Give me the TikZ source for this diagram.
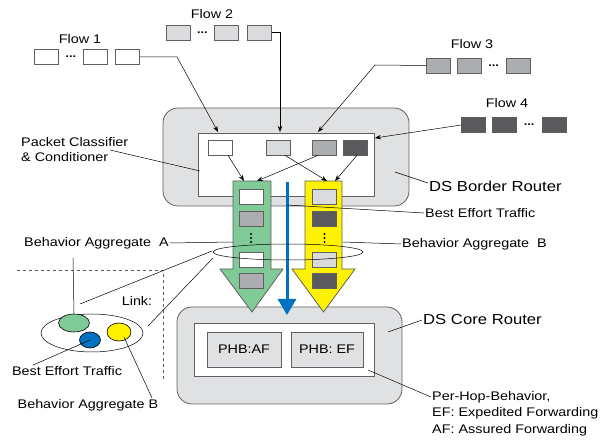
\documentclass[tikz,border=0pt]{standalone}
\usepackage{fontspec}
\setmainfont{Liberation Sans}[FakeStretch=1.15]
\usetikzlibrary{arrows.meta,positioning,shapes.geometric,calc}

\definecolor{routergray}{RGB}{224,225,227}
\definecolor{edgegray}{RGB}{95,95,97}
\definecolor{pktlight}{RGB}{218,219,221}
\definecolor{pktmid}{RGB}{172,173,176}
\definecolor{pktdark}{RGB}{90,90,92}
\definecolor{bagreen}{RGB}{128,202,152}
\definecolor{bayellow}{RGB}{255,242,0}
\definecolor{beblue}{RGB}{0,112,192}

\tikzset{
  pkt/.style={draw=edgegray, line width=0.7pt, minimum width=24pt, minimum height=15pt, inner sep=0pt},
  pktdots/.style={inner sep=0pt, font=\fontsize{11}{11}\selectfont\bfseries},
  router/.style={draw=edgegray, line width=0.8pt, fill=routergray, rounded corners=15pt},
  lbl/.style={inner sep=1pt, font=\fontsize{12.5}{16.5}\selectfont},
  biglbl/.style={inner sep=1pt, font=\fontsize{14.5}{16}\selectfont},
  lead/.style={line width=0.5pt},
}

\begin{document}
\begin{tikzpicture}[x=1pt, y=-1pt, >={Stealth[length=6pt,width=4.5pt]}]
  \useasboundingbox (0,0) rectangle (603,446);

  % flows
  \node (f1a) [pkt, fill=white] at (46,57) {};
  \node (f1b) [pkt, fill=white, right=25pt of f1a] {};
  \node (f1c) [pkt, fill=white, right=7pt of f1b] {};
  \node (f1d) [pktdots] at ($(f1a)!0.5!(f1b)$) {...};
  \node (f1) [lbl] at (80,39) {Flow 1};

  \node (f2a) [pkt, fill=pktlight] at (178,32.5) {};
  \node (f2b) [pkt, fill=pktlight, right=24pt of f2a] {};
  \node (f2c) [pkt, fill=pktlight, right=8pt of f2b] {};
  \node (f2d) [pktdots] at ($(f2a)!0.5!(f2b)$) {...};
  \node (f2) [lbl] at (212,14) {Flow 2};

  \node (f3a) [pkt, fill=pktmid] at (438.5,65.5) {};
  \node (f3b) [pkt, fill=pktmid, right=6pt of f3a] {};
  \node (f3c) [pkt, fill=pktmid, right=24pt of f3b] {};
  \node (f3d) [pktdots] at ($(f3b)!0.5!(f3c)$) {...};
  \node (f3) [lbl] at (472,44) {Flow 3};

  \node (f4a) [pkt, fill=pktdark] at (473.5,125) {};
  \node (f4b) [pkt, fill=pktdark, right=6pt of f4a] {};
  \node (f4c) [pkt, fill=pktdark, right=25pt of f4b] {};
  \node (f4d) [pktdots] at ($(f4b)!0.5!(f4c)$) {...};
  \node (f4) [lbl] at (507,103) {Flow 4};

  % border router
  \node (border) [router, minimum width=246pt, minimum height=98pt] at (286,157) {};
  \node (cls) [draw=edgegray, line width=0.8pt, fill=white, minimum width=176pt, minimum height=63pt] at (286,164.5) {};
  \node (c1) [pkt, fill=white] at (220,147.5) {};
  \node (c2) [pkt, fill=pktlight] at (278.5,147.5) {};
  \node (c3) [pkt, fill=pktmid] at (324,147.5) {};
  \node (c4) [pkt, fill=pktdark] at (355.5,147.5) {};

  \coordinate (k1) at (177,57);
  \coordinate (in1) at (218,132);
  \coordinate (in2) at (280,132);
  \coordinate (k3) at (375,65);
  \coordinate (in3) at (318,132);
  \coordinate (in4) at (375,138);
  \draw[->, lead] (f1c.east) -- (k1) -- (in1);
  \draw[->, lead] (f2c.east) -| (in2);
  \draw[->, lead] (f3a.west) -- (k3) -- (in3);
  \draw[->, lead] (f4a.west) -- (in4);

  % core router
  \node (core) [router, minimum width=225pt, minimum height=97pt] at (289.5,355.5) {};
  \node (phb) [draw=edgegray, line width=0.8pt, fill=white, minimum width=180pt, minimum height=53pt] at (284,349.5) {};
  \node (af) [pkt, fill=routergray, minimum width=74pt, minimum height=35pt, font=\fontsize{12.5}{14}\selectfont] at (244,349.5) {PHB:AF};
  \node (ef) [pkt, fill=routergray, minimum width=72pt, minimum height=35pt, font=\fontsize{12.5}{14}\selectfont] at (327,349.5) {PHB: EF};

  % behavior aggregates
  \draw[draw=edgegray, line width=0.8pt, fill=bagreen] (233,181) -- (271,181) -- (271,269) -- (283,269)
    -- (252,312) -- (220,269) -- (233,269) -- cycle;
  \draw[draw=edgegray, line width=0.8pt, fill=bayellow] (305,181) -- (342,181) -- (342,269) -- (355,269)
    -- (323.5,312) -- (292,269) -- (305,269) -- cycle;
  \coordinate (ga1) at (244,181);
  \coordinate (ga2) at (257,181);
  \coordinate (ya1) at (327,181);
  \coordinate (ya2) at (335,181);
  \draw[->, lead] ($(c1.south)+(8,0)$) -- (ga1);
  \draw[->, lead] ($(c3.south)+(-6,0)$) -- (ga2);
  \draw[->, lead] ($(c2.south)+(6.5,0)$) -- (ya1);
  \draw[->, lead] ($(c4.south)+(1.5,0)$) -- (ya2);

  \node (g1) [pkt, fill=white] at (251,197) {};
  \node (g2) [pkt, fill=pktmid] at (251,219) {};
  \node (g4) [pkt, fill=white] at (251,259.5) {};
  \node (g5) [pkt, fill=pktmid] at (251,281) {};
  \node (y1) [pkt, fill=pktlight] at (324.5,197) {};
  \node (y2) [pkt, fill=pktdark] at (324.5,219) {};
  \node (y4) [pkt, fill=pktlight] at (324.5,259.5) {};
  \node (y5) [pkt, fill=pktdark] at (324.5,281) {};
  \foreach \dy in {-4,0,4} {
    \fill (251,238+\dy) circle (1.1pt);
    \fill (324.5,238+\dy) circle (1.1pt);
  }

  % best effort
  \coordinate (be1) at (287,182);
  \coordinate (be2) at (287,315);
  \draw[beblue, line width=3pt, -{Triangle[width=18pt,length=16pt]}] (be1) -- (be2);

  % link
  \node (bag) [draw, ellipse, line width=0.5pt, minimum width=150pt, minimum height=16pt] at (288,252) {};

  % labels
  \node (pcc) [lbl, anchor=west, align=left, font=\fontsize{12.5}{15}\selectfont] at (20,149.5) {Packet Classifier\\\& Conditioner};
  \coordinate (pcc1) at (200,171);
  \draw[lead] (110,150) -- (pcc1);

  \node (dsb) [biglbl, anchor=west] at (428,186) {DS Border Router};
  \coordinate (dsb1) at (395,172);
  \draw[lead] ($(dsb.west)+(0,-3)$) -- (dsb1);

  \node (ber) [lbl, anchor=west] at (424,213) {Best Effort Traffic};
  \coordinate (ber1) at (287,205);
  \draw[lead] (ber.west) -- (ber1);

  \node (bab) [lbl, anchor=west] at (401,244) {Behavior Aggregate\ \ B};
  \coordinate (bab1) at (343,242);
  \draw[lead] (bab.west) -- (bab1);

  \node (baa) [lbl, anchor=west] at (23,243) {Behavior Aggregate\ \ A};
  \coordinate (baa1) at (233,242);
  \draw[lead] (baa.east) -- (baa1);

  \node (dsc) [biglbl, anchor=west] at (422,320) {DS Core Router};
  \coordinate (dsc1) at (388,332);
  \draw[lead] (dsc.west) -- (dsc1);

  \node (phbl) [lbl, anchor=north west, align=left] at (431,390) {Per-Hop-Behavior,\\EF: Expedited Forwarding\\AF: Assured Forwarding};
  \coordinate (phb1) at (368,370);
  \draw[lead] ($(phbl.north west)+(0,7)$) -- (phb1);

  % link detail
  \draw[dashed, lead, edgegray] (17,270) -- (163,270) -- (163,382);
  \node (lnkl) [lbl] at (137,301) {Link:};
  \node (lnk) [draw, ellipse, line width=0.5pt, minimum width=102pt, minimum height=38pt] at (92,333) {};
  \node (gsm) [draw, ellipse, fill=bagreen, line width=0.6pt, minimum width=31pt, minimum height=18pt, inner sep=0pt] at (74,323) {};
  \node (bsm) [draw, ellipse, fill=beblue, line width=0.6pt, minimum width=21pt, minimum height=16pt, inner sep=0pt] at (90,340) {};
  \node (ysm) [draw, ellipse, fill=bayellow, line width=0.6pt, minimum width=24pt, minimum height=18pt, inner sep=0pt] at (119,332) {};
  \coordinate (lz1) at (80,304);
  \coordinate (lz2) at (212,251);
  \coordinate (lz3) at (148,326);
  \coordinate (lz4) at (213,258);
  \draw[lead] (lz1) -- (lz2);
  \draw[lead] (lz3) -- (lz4);

  \coordinate (baa2) at (73,258);
  \draw[lead] (gsm.north) -- (baa2);
  \node (bel) [lbl] at (67,371) {Best Effort Traffic};
  \draw[lead] (bsm.center) -- ($(bel.north west)+(22,0)$);
  \node (bbl) [lbl] at (88,405) {Behavior Aggregate B};
  \draw[lead] ($(ysm.center)+(5,5)$) -- ($(bbl.north)+(64,0)$);
\end{tikzpicture}
\end{document}
